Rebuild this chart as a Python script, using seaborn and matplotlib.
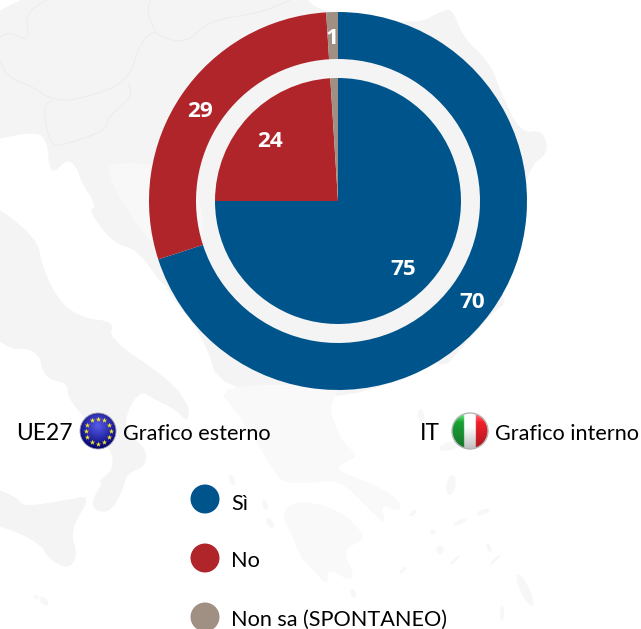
import numpy as np
import matplotlib
matplotlib.use("Agg")
import matplotlib.pyplot as plt
from matplotlib.patches import Polygon, Circle, Ellipse
import seaborn as sns

# ---- data ----
categories = ["Sì", "No", "Non sa (SPONTANEO)"]
ue27_values = [70, 29, 1]
it_values = [75, 24, 1]
colors = ["#00548C", "#AF252A", "#A08F83"]

W, H = 641, 629
sns.set_theme(style="white")
plt.rcParams["font.family"] = ["Lato", "DejaVu Sans"]
fig = plt.figure(figsize=(W / 100, H / 100), dpi=100, facecolor="white")
ax = fig.add_axes([0, 0, 1, 1])


def P(pts):
    return [(x, H - y) for x, y in pts]


def smooth(pts, closed=True, n=3):
    """Chaikin corner cutting, to round the hand-traced map outlines."""
    pts = np.asarray(pts, float)
    for _ in range(n):
        a = pts
        b = np.roll(pts, -1, axis=0) if closed else pts[1:]
        a2 = a if closed else a[:-1]
        q = 0.75 * a2 + 0.25 * b
        r = 0.25 * a2 + 0.75 * b
        new = np.empty((len(q) * 2, 2))
        new[0::2] = q
        new[1::2] = r
        pts = new if closed else np.vstack([pts[0], new, pts[-1]])
    return pts


# ---- faint background map (decoration) ----
LAND = "#F4F4F4"
LIGHT = "#F9F9F9"
balkans = [(-20, -20), (300, -20), (305, 0), (325, 12), (417, 25), (443, 10), (453, 10), (463, 37), (490, 63), (500, 90),
           (520, 133), (543, 130), (549, 153), (527, 168), (500, 293), (507, 303), (493, 312), (457, 353),
           (447, 365), (433, 363), (403, 380), (333, 400), (220, 390), (205, 340), (173, 297), (157, 277),
           (137, 250), (113, 243), (88, 210), (97, 207), (80, 180), (78, 170), (68, 158), (50, 177),
           (47, 137), (30, 132), (-20, 143)]
italy = [(-20, 195), (37, 237), (42, 267), (60, 303), (83, 318), (115, 322), (108, 338), (170, 380), (190, 407),
         (187, 423), (177, 410), (150, 397), (143, 392), (133, 400), (125, 420), (128, 433), (147, 450), (145, 467),
         (127, 473), (123, 490), (110, 513), (93, 510), (93, 498), (103, 483), (98, 482), (113, 470), (112, 450),
         (80, 413), (68, 397), (67, 383), (50, 380), (42, 370), (40, 357), (28, 348), (10, 350), (-20, 325)]
sicily = [(-20, 482), (17, 497), (23, 507), (67, 500), (92, 495), (70, 530), (78, 555), (68, 570), (47, 557),
          (43, 547), (20, 533), (-20, 520)]
greece = [(215, 385), (340, 385), (333, 400), (330, 413), (343, 443), (358, 455), (350, 460), (333, 470), (373, 483),
          (403, 503), (397, 512), (380, 503), (387, 527), (367, 507), (340, 480), (310, 483), (283, 483),
          (272, 468), (257, 443), (237, 413)]
pelop = [(282, 517), (290, 503), (313, 502), (343, 513), (357, 527), (365, 537), (357, 543), (343, 550), (355, 577),
         (347, 580), (327, 567), (328, 587), (313, 570), (300, 557), (290, 530)]
serbia = [(107, 170), (113, 163), (150, 163), (197, 180), (207, 247), (160, 257), (120, 200)]
for poly, col, n in [(balkans, LAND, 2), (italy, LAND, 2), (sicily, LAND, 2), (serbia, "#F8F8F8", 3),
                     (greece, LIGHT, 2), (pelop, LIGHT, 2)]:
    ax.add_patch(Polygon(P(smooth(poly, n=n)), closed=True, fc=col, ec="none", zorder=0))

borders = [[(0, 60), (7, 77), (33, 87), (52, 100), (77, 100), (128, 83), (140, 43), (155, 30), (160, 37), (187, 43),
            (210, 20), (260, 13), (290, 0)],
           [(128, 83), (133, 97), (107, 117), (107, 130), (70, 143), (50, 147), (43, 107), (52, 100)],
           [(0, 37), (10, 32), (30, 42), (25, 13), (47, 0)],
           [(155, 30), (147, 13), (150, 0)]]
for b in borders:
    xs, ys = zip(*P(smooth(b, closed=False)))
    ax.plot(xs, ys, color="#ECECEC", lw=0.7, zorder=0.5)

white_isles = [(62, 177, 5, 13, 30), (64, 189, 4, 12, 30), (80, 195, 5, 18, 40), (88, 205, 3, 12, 40),
               (80, 217, 3, 12, 60), (102, 238, 3, 4, 30), (132, 258, 5, 12, 80), (135, 266, 4, 20, 85),
               (140, 276, 4, 13, 90), (160, 285, 4, 16, 70)]
for x, y, w, h, a in white_isles:
    ax.add_patch(Ellipse((x, H - y), w, h, angle=a, fc="white", ec="none", zorder=0.6))
grey_isles = [(36, 597, 5, 4, -30), (44, 601, 6, 11, 50), (232, 480, 5, 11, 20), (270, 523, 6, 11, 30),
              (265, 505, 5, 11, 15), (451, 485, 9, 20, -10), (413, 513, 9, 4, 40), (460, 522, 14, 4, 20),
              (483, 512, 14, 5, 20), (433, 532, 6, 4, 0), (440, 550, 7, 9, 0), (455, 560, 13, 3, 45),
              (495, 560, 14, 3, 45), (489, 548, 4, 9, 20), (403, 570, 9, 3, 45), (525, 590, 9, 35, 25),
              (502, 613, 4, 15, 0), (353, 593, 5, 9, 20), (421, 415, 7, 12, 10), (450, 446, 22, 8, 15)]
for x, y, w, h, a in grey_isles:
    ax.add_patch(Ellipse((x, H - y), w, h, angle=a, fc="#F7F7F7", ec="none", zorder=0.6))

# ---- doughnut ----
cx, cy = 338, H - 201
_, _, outer_txt = ax.pie(ue27_values, colors=colors, startangle=90, counterclock=False, radius=189,
                         center=(cx, cy), frame=True, autopct=lambda p: f"{p:.0f}", pctdistance=0.878,
                         wedgeprops=dict(width=47, linewidth=0))
# the inner chart's smallest slice carries no label
_, _, inner_txt = ax.pie(it_values, colors=colors, startangle=90, counterclock=False, radius=123,
                         center=(cx, cy), frame=True, autopct=lambda p: f"{p:.0f}" if p > 2 else "",
                         pctdistance=0.75, wedgeprops=dict(linewidth=0))
for t in outer_txt + inner_txt:
    t.set(color="white", fontweight="bold", fontsize=16.2, family=["Open Sans", "DejaVu Sans"])
    tx, ty = t.get_position()
    t.set_position((tx - 0.5, ty - 3.5))

# ---- legend dots, through seaborn ----
sns.scatterplot(x=[205, 205, 205], y=[H - 499, H - 558, H - 617], hue=categories, palette=colors,
                s=435, linewidth=0, legend=False, ax=ax, zorder=3, clip_on=True)
TXT = "#000000"
FS = 15.6
for name, y in zip(categories, [504, 561, 620]):
    ax.text(231, H - y, name, color=TXT, fontsize=FS, va="center", ha="left", zorder=4)

ax.text(16, H - 434, "UE27", color=TXT, fontsize=FS + 0.8, va="center", zorder=4)
ax.text(123, H - 434, "Grafico esterno", color=TXT, fontsize=FS, va="center", zorder=4)
ax.text(420, H - 434, "IT", color=TXT, fontsize=FS + 0.8, va="center", zorder=4)
ax.text(495, H - 434, "Grafico interno", color=TXT, fontsize=FS, va="center", zorder=4)

# ---- flag badges ----
R = 18
gy, gx = np.mgrid[-1:1:80j, -1:1:80j]

# EU
ex, ey = 98, H - 431
eu = np.zeros((80, 80, 3))
shade = np.clip(1.0 - 0.75 * np.hypot(gx, gy + 0.3), 0, 1)
eu[..., 0] = 0.34 * shade
eu[..., 1] = 0.36 * shade
eu[..., 2] = 0.42 + 0.50 * shade
im = ax.imshow(eu, extent=(ex - R, ex + R, ey - R, ey + R), origin="upper", zorder=3, aspect="auto",
               interpolation="bilinear")
im.set_clip_path(Circle((ex, ey), R, transform=ax.transData))
ax.add_patch(Circle((ex, ey), R, fc="none", ec="#9A9AAA", lw=0.6, zorder=3.1))
ang = np.deg2rad(np.arange(0, 360, 30))
ax.scatter(ex + 12.5 * np.cos(ang), ey + 12.5 * np.sin(ang), marker="*", s=16, c="#F5E52A", linewidths=0, zorder=3.2)

# IT
ix, iy = 470, H - 431
it = np.ones((80, 80, 3))
it[gx < -0.33] = (0.10, 0.60, 0.20)
it[gx > 0.33] = (0.90, 0.12, 0.16)
gloss = np.clip(0.95 + 0.2 * gy * -1, 0, 1.15)[..., None]
it = np.clip(it * gloss + np.clip((-gy - 0.5) * 0.6, 0, 0.3)[..., None], 0, 1)
im2 = ax.imshow(it, extent=(ix - R, ix + R, iy - R, iy + R), origin="upper", zorder=3, aspect="auto",
                interpolation="bilinear")
im2.set_clip_path(Circle((ix, iy), R, transform=ax.transData))
ax.add_patch(Circle((ix, iy), R, fc="none", ec="#B5B5B5", lw=1.0, zorder=3.1))

ax.set_xlim(0, W)
ax.set_ylim(0, H)
ax.set_aspect("auto")
ax.axis("off")
fig.savefig("out.png", dpi=100, facecolor="white")
